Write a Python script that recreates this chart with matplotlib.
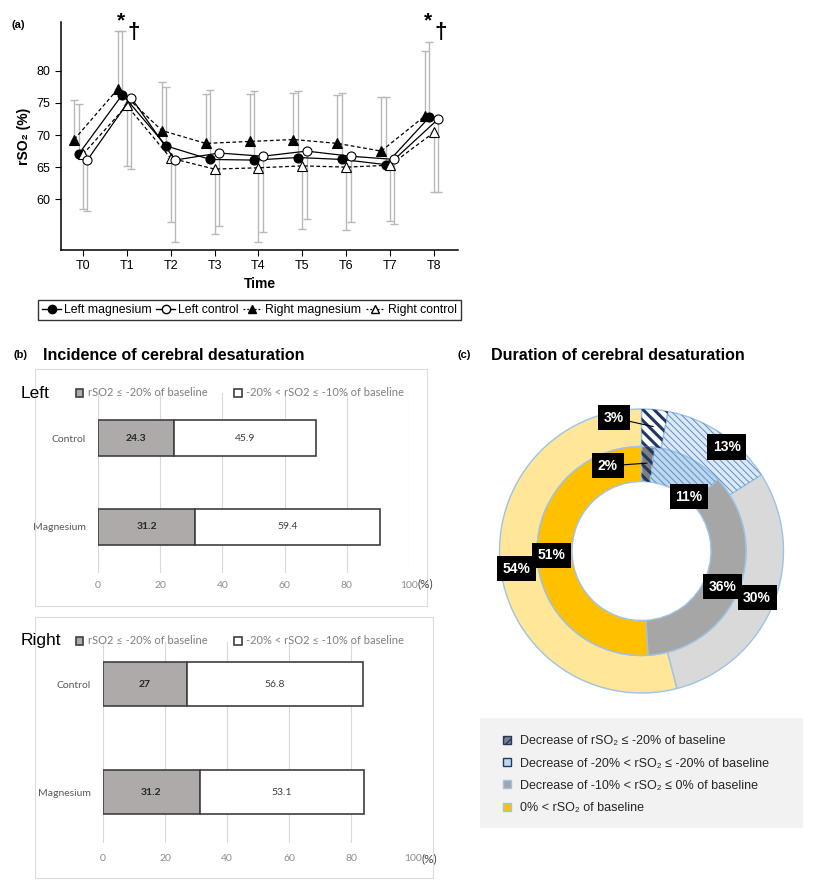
import numpy as np
import matplotlib.pyplot as plt
from matplotlib.patches import Rectangle, Patch, Wedge
from matplotlib.lines import Line2D

plt.rcParams['font.family'] = ['Liberation Sans', 'DejaVu Sans']
small_font = ['Lato', 'DejaVu Sans']

W, H = 840, 881

# ---- (a) rSO2 over time ----
times = ['T0', 'T1', 'T2', 'T3', 'T4', 'T5', 'T6', 'T7', 'T8']
left_mg = [67.0, 76.3, 68.3, 66.2, 66.1, 66.5, 66.2, 65.4, 72.8]
left_ctrl = [66.1, 75.8, 66.1, 67.2, 66.7, 67.5, 66.7, 66.2, 72.5]
right_mg = [69.3, 77.2, 70.7, 68.7, 69.0, 69.3, 68.7, 67.5, 73.0]
right_ctrl = [67.0, 74.6, 66.4, 64.7, 64.9, 65.2, 65.0, 65.3, 70.4]
# ends of the one-sided error bars
left_mg_top = [74.8, 86.2, 77.5, 77.0, 76.8, 76.8, 76.5, 75.9, 84.5]
right_mg_top = [75.5, 86.2, 78.3, 76.4, 76.4, 76.6, 76.3, 75.9, 83.1]
left_ctrl_bottom = [58.1, 64.7, 53.3, 55.8, 54.9, 56.9, 56.5, 56.2, 61.1]
right_ctrl_bottom = [58.5, 65.2, 56.5, 54.6, 53.3, 55.4, 55.2, 56.6, 61.1]
signif_times = [1, 8]

# ---- (b) incidence ----
groups = ['Magnesium', 'Control']
left_severe = [31.2, 24.3]
left_moderate = [59.4, 45.9]
right_severe = [31.2, 27]
right_moderate = [53.1, 56.8]
bar_labels = ['rSO2 \u2264 -20% of baseline', '-20% < rSO2 \u2264 -10% of baseline']

# ---- (c) duration ----
outer_pct = [3, 13, 30, 54]
inner_pct = [2, 11, 36, 51]
duration_labels = ['Decrease of rSO\u2082 \u2264 -20% of baseline',
                   'Decrease of -20% < rSO\u2082 \u2264 -20% of baseline',
                   'Decrease of -10% < rSO\u2082 \u2264 0% of baseline',
                   '0% < rSO\u2082 of baseline']


def px_rect(x0, y0, x1, y1):
    return [x0 / W, 1 - y1 / H, (x1 - x0) / W, (y1 - y0) / H]


def fx(x):
    return x / W


def fy(y):
    return 1 - y / H


fig = plt.figure(figsize=(W / 100, H / 100), dpi=100)

# ================= panel (a) =================
ax = fig.add_axes(px_rect(61, 22, 458, 250))
x = np.arange(len(times))
series = [
    (right_mg, -0.2, '^', 'black', (0, (3, 2)), None, right_mg_top),
    (left_mg, -0.1, 'o', 'black', '-', None, left_mg_top),
    (right_ctrl, 0.0, '^', 'white', (0, (3, 2)), right_ctrl_bottom, None),
    (left_ctrl, 0.1, 'o', 'white', '-', left_ctrl_bottom, None),
]
for vals, off, mk, fill, ls, lo, hi in series:
    vals = np.array(vals)
    err_lo = vals - np.array(lo) if lo is not None else np.zeros_like(vals)
    err_hi = np.array(hi) - vals if hi is not None else np.zeros_like(vals)
    ax.errorbar(x + off, vals, yerr=[err_lo, err_hi], fmt='none', ecolor='#b8b8b8',
                elinewidth=1, capsize=3, capthick=1, zorder=1)
for vals, off, mk, fill, ls, lo, hi in series:
    ax.plot(x + off, vals, ls=ls, color='black', lw=0.9, marker=mk, ms=6.5,
            mfc=fill, mec='black', mew=0.8, zorder=3)

for t in signif_times:
    ax.text(t - 0.13, 87.8, '*', ha='center', va='center', fontsize=15,
            fontweight='bold', clip_on=False)
    ax.text(t + 0.15, 85.9, '\u2020', ha='center', va='center', fontsize=16,
            fontweight='bold', clip_on=False)

ax.set_xlim(-0.5, 8.55)
ax.set_ylim(52.1, 87.6)
ax.set_xticks(x)
ax.set_xticklabels(times, fontsize=9)
ax.set_yticks([60, 65, 70, 75, 80])
ax.tick_params(labelsize=9, length=4, width=0.8)
for s in ['top', 'right']:
    ax.spines[s].set_visible(False)
for s in ['left', 'bottom']:
    ax.spines[s].set_linewidth(1.1)
ax.set_xlabel('Time', fontsize=10, fontweight='bold', labelpad=3)
ax.set_ylabel('rSO\u2082 (%)', fontsize=10, fontweight='bold', labelpad=4)
fig.text(fx(12), fy(25), '(a)', fontsize=8, fontweight='bold', va='center')

handles = [
    Line2D([], [], color='black', lw=1, marker='o', ms=6, mfc='black'),
    Line2D([], [], color='black', lw=1, marker='o', ms=6, mfc='white'),
    Line2D([], [], color='black', lw=0.9, ls=(0, (1.5, 1.5)), marker='^', ms=6, mfc='black'),
    Line2D([], [], color='black', lw=0.9, ls=(0, (1.5, 1.5)), marker='^', ms=6, mfc='white'),
]
fig.legend(handles, ['Left magnesium', 'Left control', 'Right magnesium', 'Right control'],
           loc='center', bbox_to_anchor=(fx(249.5), fy(310)), ncol=4, fontsize=8.8,
           frameon=True, fancybox=False, edgecolor='black', handlelength=1.5,
           handletextpad=0.3, columnspacing=0.35, borderpad=0.35, borderaxespad=0)

# ================= panel (b) =================
fig.text(fx(13), fy(355), '(b)', fontsize=8, fontweight='bold', va='center')
fig.text(fx(43), fy(355), 'Incidence of cerebral desaturation', fontsize=11.5,
         fontweight='bold', va='center')


def draw_bars(rect, box, severe, moderate, height, ylim, label_y, side, label_pad):
    fig.patches.append(Rectangle((fx(box[0]), fy(box[3])), (box[2] - box[0]) / W,
                                 (box[3] - box[1]) / H, transform=fig.transFigure,
                                 fill=False, ec='#dcdcdc', lw=0.8))
    bx = fig.add_axes(px_rect(*rect))
    yy = np.arange(len(groups))
    b1 = bx.barh(yy, severe, height, color='#aeaaaa', edgecolor='#404040', lw=1.2, zorder=2)
    b2 = bx.barh(yy, moderate, height, left=severe, color='white', edgecolor='#404040',
                 lw=1.2, zorder=2)
    for i in range(len(groups)):
        bx.text(severe[i] / 2, yy[i], f'{severe[i]:g}', ha='center', va='center',
                fontsize=7.5, fontweight='bold', color='#262626', family=small_font)
        bx.text(severe[i] + moderate[i] / 2, yy[i], f'{moderate[i]:g}', ha='center',
                va='center', fontsize=7.5, color='#404040', family=small_font)
    bx.set_xlim(0, 100)
    bx.set_ylim(*ylim)
    bx.set_xticks(np.arange(0, 101, 20))
    bx.set_yticks(yy)
    bx.set_yticklabels(groups)
    for lab in bx.get_xticklabels() + bx.get_yticklabels():
        lab.set_family(small_font)
    bx.tick_params(axis='x', length=0, labelsize=7.5, labelcolor='#8c8c8c', pad=label_pad)
    bx.tick_params(axis='y', length=0, labelsize=7.5, labelcolor='#595959', pad=9)
    bx.grid(axis='x', color='#d9d9d9', lw=0.8)
    bx.set_axisbelow(True)
    for s in bx.spines.values():
        s.set_visible(False)
    fig.text(fx(rect[2] + 8), fy(label_y), '(%)', fontsize=8.5, color='#404040',
             va='center', family=small_font)
    fig.text(fx(21), fy(box[1] + 24), side, fontsize=12.5, va='center')
    fig.legend([b1, b2], bar_labels, loc='center left',
               bbox_to_anchor=(fx(70), fy(box[1] + 24)), ncol=2, frameon=False,
               labelcolor='#7f7f7f', handlelength=0.7, handleheight=0.7,
               handletextpad=0.4, columnspacing=2.4, borderpad=0,
               prop={'family': small_font, 'size': 8})


draw_bars((98, 393, 409, 573), (35, 369, 427, 606), left_severe, left_moderate,
          0.40, (-0.517, 1.506), 584, 'Left', 6)
draw_bars((103, 642, 413, 843), (35, 617, 433, 878), right_severe, right_moderate,
          0.41, (-0.472, 1.389), 859, 'Right', 8)

# ================= panel (c) =================
fig.text(fx(458), fy(355), '(c)', fontsize=8, fontweight='bold', va='center')
fig.text(fx(491), fy(355), 'Duration of cerebral desaturation', fontsize=11.5,
         fontweight='bold', va='center')

R = 142
cx, cy = 641.5, 551
half = 1.05 * R
pax = fig.add_axes(px_rect(cx - half, cy - half, cx + half, cy + half))

outer_colors = ['white', '#dde9f6', '#d9d9d9', '#ffe699']
inner_colors = ['#7f7f7f', '#bdd7ee', '#a6a6a6', '#ffc000']
hatches = [('\\\\\\', '#1f3864', 2.2), ('\\\\\\\\\\', '#5b8fc9', 0.7), None, None]

r_in_outer = 104.5 / R
r_hole = 69.5 / R
edge = dict(edgecolor='#9dc3e6', linewidth=1)
w_out, _ = pax.pie(outer_pct, radius=1, colors=outer_colors, startangle=90,
                   counterclock=False, wedgeprops=dict(width=1 - r_in_outer, **edge))
w_in, _ = pax.pie(inner_pct, radius=r_in_outer, colors=inner_colors, startangle=90,
                  counterclock=False, wedgeprops=dict(width=r_in_outer - r_hole, **edge))

for wedges in (w_out, w_in):
    for w, h in zip(wedges, hatches):
        if h is None:
            continue
        pat, col, hlw = h
        plt.rcParams['hatch.linewidth'] = hlw
        hw = Wedge(w.center, w.r, w.theta1, w.theta2, width=w.width, fc='none',
                   ec=col, lw=0, hatch=pat, zorder=w.get_zorder() + 0.1)
        try:
            hw.set_hatch_linewidth(hlw)
        except AttributeError:
            pass
        pax.add_patch(hw)

# label placement: (angle shift from wedge middle in degrees, radius)
outer_place = [(-17.1, 0.957), (5.2, 0.948), (0.5, 0.878), (-1.0, 0.886)]
inner_place = [(-25.1, 0.644), (14.3, 0.507), (2.2, 0.627), (-0.8, 0.631)]


def polar(ang, r):
    a = np.deg2rad(ang)
    return r * np.sin(a), r * np.cos(a)


for pcts, place, leader_r in ((outer_pct, outer_place, 0.88), (inner_pct, inner_place, 0.62)):
    cum = np.concatenate([[0], np.cumsum(pcts)])
    for i, p in enumerate(pcts):
        mid = (cum[i] + cum[i + 1]) / 2 * 3.6
        d, r = place[i]
        tx, ty = polar(mid + d, r)
        bbox = dict(boxstyle='square,pad=0.4', fc='black', ec='none')
        if i == 0:
            px_, py_ = polar(mid, leader_r)
            pax.annotate(f'{p}%', xy=(px_, py_), xytext=(tx, ty), ha='center', va='center',
                         color='white', fontsize=10, fontweight='bold', bbox=bbox,
                         arrowprops=dict(arrowstyle='-', color='black', lw=0.8,
                                         shrinkA=0, shrinkB=0), zorder=5)
        else:
            pax.text(tx, ty, f'{p}%', ha='center', va='center', color='white',
                     fontsize=10, fontweight='bold', bbox=bbox, zorder=5)

pax.set_xlim(-1.05, 1.05)
pax.set_ylim(-1.05, 1.05)
pax.set_aspect('equal')
pax.axis('off')

# legend of (c)
fig.patches.append(Rectangle((fx(480), fy(828)), (803 - 480) / W, (828 - 718) / H,
                             transform=fig.transFigure, fc='#f2f2f2', ec='none', zorder=0))
plt.rcParams['hatch.linewidth'] = 1.0
leg_handles = [
    Patch(fc='#7f7f7f', ec='#1f3864', hatch='////'),
    Patch(fc='#bdd7ee', ec='#1f3864'),
    Patch(fc='#a6a6a6', ec='#9dc3e6'),
    Patch(fc='#ffc000', ec='#9dc3e6'),
]
fig.legend(leg_handles, duration_labels, loc='upper left',
           bbox_to_anchor=(fx(497), fy(729)), frameon=False, fontsize=9,
           labelcolor='#262626', handlelength=0.6, handleheight=0.6,
           handletextpad=0.7, labelspacing=0.82, borderpad=0)

fig.savefig('out.png', dpi=100)
